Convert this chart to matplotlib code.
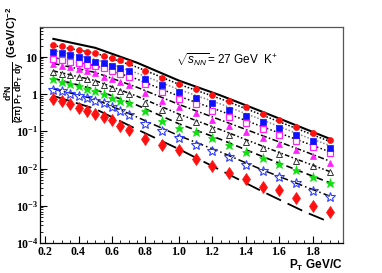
import numpy as np
import matplotlib
matplotlib.use("Agg")
import matplotlib.pyplot as plt
from matplotlib.ticker import FixedLocator, FuncFormatter, LogLocator, NullFormatter, MultipleLocator

plt.rcParams['mathtext.fontset'] = 'custom'
plt.rcParams['mathtext.rm'] = 'Liberation Sans'
plt.rcParams['mathtext.it'] = 'Liberation Sans:italic'
plt.rcParams['mathtext.bf'] = 'Liberation Serif:bold'
plt.rcParams['mathtext.sf'] = 'Liberation Sans:bold'

# ---- data (log10 of yield) ----
pt = [0.25, 0.30, 0.35, 0.40, 0.45, 0.50, 0.55, 0.60, 0.65, 0.70,
      0.8, 0.9, 1.0, 1.1, 1.2, 1.3, 1.4, 1.5, 1.6, 1.7, 1.8, 1.9]

log_red_circle = [1.32, 1.28, 1.23, 1.19, 1.14, 1.09, 1.03, 0.96, 0.90, 0.83,
                  0.62, 0.44, 0.27, 0.13, -0.02, -0.19, -0.35, -0.53, -0.69, -0.89, -1.05, -1.23]
log_blue_square = [1.13, 1.09, 1.04, 0.99, 0.93, 0.87, 0.82, 0.76, 0.70, 0.61,
                   0.40, 0.23, 0.05, -0.10, -0.24, -0.42, -0.58, -0.75, -0.92, -1.10, -1.27, -1.45]
log_mag_open_square = [0.94, 0.91, 0.87, 0.83, 0.78, 0.74, 0.69, 0.61, 0.55, 0.46,
                       0.26, 0.06, -0.14, -0.28, -0.455, -0.63, -0.78, -0.94, -1.10, -1.27, -1.43, -1.58]
log_mag_triangle = [0.80, 0.76, 0.72, 0.67, 0.62, 0.56, 0.46, 0.39, 0.32, 0.23,
                    0.04, -0.18, -0.36, -0.52, -0.69, -0.85, -1.01, -1.19, -1.35, -1.49, -1.67, -1.85]
log_black_open_tri = [0.60, 0.55, 0.50, 0.45, 0.39, 0.32, 0.255, 0.17, 0.08, 0.01,
                      -0.23, -0.43, -0.63, -0.75, -0.94, -1.10, -1.28, -1.44, -1.61, -1.785, -1.934, -2.09]
log_green_star = [0.39, 0.33, 0.27, 0.21, 0.14, 0.07, -0.01, -0.10, -0.19, -0.25,
                  -0.455, -0.72, -0.90, -1.01, -1.19, -1.37, -1.545, -1.72, -1.89, -2.05, -2.23, -2.39]
log_blue_open_star = [0.12, 0.07, 0.01, -0.05, -0.12, -0.18, -0.25, -0.34, -0.455, -0.56,
                      -0.80, -1.00, -1.19, -1.37, -1.52, -1.70, -1.90, -2.077, -2.23, -2.40, -2.60, -2.76]
log_red_diamond = [-0.14, -0.19, -0.26, -0.38, -0.45, -0.54, -0.63, -0.69, -0.86, -0.96,
                   -1.20, -1.38, -1.50, -1.74, -1.93, -2.11, -2.27, -2.49, -2.58, -2.80, -3.00, -3.18]

# fit curves (log10) at nodes
pt_fit = [0.25, 0.5, 0.75, 1.0, 1.25, 1.5, 1.75, 1.9]
fit_1 = [1.48, 1.24, 0.84, 0.36, -0.04, -0.48, -0.93, -1.20]
fit_2 = [1.30, 1.10, 0.72, 0.26, -0.13, -0.57, -1.01, -1.27]
fit_3 = [1.17, 0.93, 0.56, 0.12, -0.27, -0.70, -1.14, -1.38]
fit_4 = [0.98, 0.76, 0.40, -0.06, -0.46, -0.88, -1.30, -1.55]
fit_5 = [0.82, 0.58, 0.18, -0.28, -0.70, -1.12, -1.54, -1.80]
fit_6 = [0.62, 0.36, -0.06, -0.54, -0.96, -1.40, -1.83, -2.08]
fit_7 = [0.42, 0.12, -0.30, -0.80, -1.22, -1.68, -2.12, -2.38]
fit_8 = [0.14, -0.14, -0.62, -1.12, -1.56, -2.04, -2.48, -2.74]
fit_9 = [-0.05, -0.40, -0.95, -1.48, -2.05, -2.62, -3.16, -3.44]

x_ticks = [0.2, 0.4, 0.6, 0.8, 1.0, 1.2, 1.4, 1.6, 1.8]
x_tick_labels = ['0.2', '0.4', '0.6', '0.8', '1.0', '1.2', '1.4', '1.6', '1.8']

fig = plt.figure(figsize=(3.82, 2.73), dpi=100)
ax = fig.add_axes([40/382, 1-243/273, (343-40)/382, (243-27)/273])

x = np.array(pt)
xf = np.array(pt_fit)

# fit lines
line_styles = [
    dict(color='black', lw=1.5, ls='-'),
    dict(color='black', lw=1.1, dashes=(1, 1.2)),
    dict(color='#888888', lw=1.1, dashes=(1, 1.2)),
    dict(color='black', lw=1.1, dashes=(1, 1.5)),
    dict(color='black', lw=1.1, dashes=(4, 1.5, 1, 1.5)),
    dict(color='black', lw=1.1, dashes=(3, 1.5, 1, 1.5, 1, 1.5)),
    dict(color='black', lw=1.2, dashes=(4, 2.5)),
    dict(color='black', lw=1.1, dashes=(5, 2, 1, 2)),
    dict(color='black', lw=1.3, dashes=(9, 4)),
]
fits = [fit_1, fit_2, fit_3, fit_4, fit_5, fit_6, fit_7, fit_8, fit_9]
for f, st in zip(fits, line_styles):
    ax.plot(xf, 10**np.array(f), **st, zorder=2)

series = [
    (log_red_diamond, dict(marker='d', color='#ff1010', mfc='#ff1010', mec='#ff1010', ms=6.5, mew=0.5)),
    (log_blue_open_star, dict(marker='*', color='#3040ff', mfc='none', mec='#3040ff', ms=7.5, mew=0.8)),
    (log_green_star, dict(marker='*', color='#10e010', mfc='#10e010', mec='#10e010', ms=6.5, mew=0.5)),
    (log_black_open_tri, dict(marker='^', color='black', mfc='none', mec='#333333', ms=4.5, mew=0.7)),
    (log_mag_triangle, dict(marker='^', color='#ff20ff', mfc='#ff20ff', mec='#ff20ff', ms=4.5, mew=0.5)),
    (log_mag_open_square, dict(marker='s', color='#ff20ff', mfc='white', mec='#ff20ff', ms=4.5, mew=0.9)),
    (log_blue_square, dict(marker='s', color='#1010ff', mfc='#1010ff', mec='#1010ff', ms=4.2, mew=0.5)),
    (log_red_circle, dict(marker='o', color='#ff1010', mfc='#ff1010', mec='#ff1010', ms=4.3, mew=0.5)),
]
for vals, st in series:
    ax.plot(x, 10**np.array(vals), ls='none', zorder=3, **st)

ax.set_yscale('log')
ax.set_xlim(0.17, 1.98)
ax.set_ylim(1e-4, 63)

ax.xaxis.set_major_locator(FixedLocator(x_ticks))
ax.xaxis.set_major_formatter(FuncFormatter(
    lambda v, pos: r'$\mathbf{%s}$' % x_tick_labels[pos] if pos is not None and pos < len(x_tick_labels) else ''))
ax.xaxis.set_minor_locator(MultipleLocator(0.05))
ax.yaxis.set_major_locator(LogLocator(base=10, numticks=20))
ax.yaxis.set_minor_locator(LogLocator(base=10, subs=np.arange(2, 10), numticks=20))
ax.yaxis.set_minor_formatter(NullFormatter())

def yfmt(v, pos):
    e = int(round(np.log10(v)))
    if e == 0:
        return r'$\mathbf{1}$'
    if e == 1:
        return r'$\mathbf{10}$'
    return r'$\mathbf{10^{%d}}$' % e
ax.yaxis.set_major_formatter(FuncFormatter(yfmt))

ax.tick_params(axis='both', which='major', direction='in', length=5, width=0.8,
               labelsize=8.5, top=False, right=False, pad=1.5)
ax.tick_params(axis='y', which='major', pad=1)
ax.tick_params(axis='both', which='minor', direction='in', length=2.5, width=0.6,
               top=False, right=False)
for sp in ax.spines.values():
    sp.set_linewidth(0.9)
ax.spines['right'].set_color('#555555')
ax.spines['top'].set_color('#555555')

ax.text((227-40)/303, (243-60)/216, r'$\sqrt{s_{NN}}$= 27 GeV  K$^{+}$', transform=ax.transAxes,
        ha='center', va='center', fontsize=8.5, family='Liberation Sans')

fig.text(343/382, 1-265/273, r'$\mathsf{P_T}$ GeV/C', ha='right', va='center',
         fontsize=8.5, family='Liberation Sans', weight='bold')

fig.text(14/382, 1-92/273, r'$\mathsf{\dfrac{d^2N}{(2\pi)\ P_T\ dP_T\ dy}}$',
         rotation=90, ha='center', va='center', fontsize=6.2)
fig.text(12/382, 1-32/273, r'(GeV/C)$^{\mathsf{-2}}$', rotation=90, ha='center', va='center',
         fontsize=8, family='Liberation Sans', weight='bold')

fig.savefig('out.png', dpi=100)
